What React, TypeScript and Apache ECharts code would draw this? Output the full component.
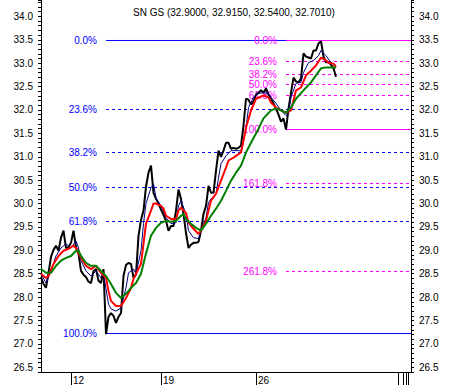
import React, { useEffect, useRef } from "react";
import * as echarts from "echarts";

// ---- data ----
const titleText = "SN GS (32.9000, 32.9150, 32.5400, 32.7010)";
const slotCount = 149;
const dayTickSlots = [12, 48, 86];
const dayTickLabels = ["12", "19", "26"];
const endTickSlots = [143, 145, 146, 147];

const close = [
  28.43, 28.28, 28.2, 28.52, 28.86, 29.01, 29.1, 28.99, 29.27, 29.42,
  29.05, 29.07, 29.16, 29.42, 29.07, 28.93, 28.56, 28.48, 28.43, 28.33,
  28.3, 28.56, 28.6, 28.35, 28.3, 28.6, 27.21, 27.58, 27.66, 27.6,
  27.45, 27.58, 27.66, 28.45, 28.69, 28.73, 28.71, 28.41, 28.48, 29.31,
  29.65, 29.85, 30.36, 30.66, 30.81, 30.23, 30.1, 30.0, 29.87, 29.76,
  29.63, 29.42, 29.52, 29.52, 29.85, 30.3, 30.1, 29.78, 29.37, 29.05,
  29.12, 29.16, 29.16, 29.18, 29.42, 29.78, 29.95, 30.38, 30.23, 30.23,
  30.7, 31.13, 31.0, 31.13, 31.3, 31.3, 31.17, 31.19, 31.17, 31.19,
  31.24, 31.67, 32.24, 32.22, 32.12, 32.18, 32.33, 32.37, 32.42, 32.37,
  32.46, 32.33, 32.24, 32.14, 32.03, 31.9, 31.75, 31.82, 31.58, 32.03,
  32.37, 32.69, 32.61, 32.59, 32.67, 33.21, 33.14, 33.12, 33.1, 33.27,
  33.27, 33.42, 33.47, 33.14, 33.02, 33.02, 32.97, 32.89, 32.71,
];

const shortAvg: [number, number][] = [
  [0, 28.5], [2, 28.3], [4, 28.56], [6, 28.88], [8, 29.05], [10, 29.14], [12, 29.05],
  [14, 29.2], [15, 29.05], [16, 28.78], [18, 28.56], [20, 28.45], [22, 28.56], [24, 28.41],
  [25, 28.5], [27, 27.85], [28, 27.75], [30, 27.7], [32, 27.77], [34, 28.2], [35, 28.52],
  [37, 28.6], [38, 28.5], [40, 28.99], [41, 29.57], [42, 30.0], [44, 30.34], [45, 30.42],
  [46, 30.12], [48, 29.95], [50, 29.7], [52, 29.57], [54, 29.59], [55, 29.95], [56, 30.06],
  [58, 29.78], [59, 29.42], [61, 29.27], [63, 29.25], [64, 29.42], [66, 29.7], [67, 30.02],
  [68, 30.1], [70, 30.21], [71, 30.55], [72, 30.85], [74, 31.02], [76, 31.13], [78, 31.13],
  [80, 31.13], [82, 31.62], [83, 32.05], [85, 32.27], [87, 32.35], [89, 32.37], [91, 32.35],
  [92, 32.27], [94, 32.14], [96, 31.99], [98, 31.88], [99, 31.92], [100, 32.27], [102, 32.57],
  [104, 32.59], [105, 32.8], [107, 33.01], [109, 33.06], [111, 33.16], [112, 33.27],
  [114, 33.16], [116, 33.01], [118, 32.95],
];

const midAvg: [number, number][] = [
  [0, 28.5], [2, 28.41], [3, 28.45], [5, 28.71], [7, 28.88], [9, 28.99], [11, 29.03],
  [13, 29.1], [14, 29.05], [16, 28.84], [18, 28.67], [20, 28.6], [22, 28.67], [24, 28.52],
  [26, 28.41], [27, 28.13], [28, 27.92], [30, 27.81], [32, 27.81], [34, 27.98], [36, 28.2],
  [37, 28.39], [38, 28.5], [40, 28.71], [41, 29.14], [42, 29.57], [44, 29.85], [45, 30.0],
  [46, 30.0], [48, 29.95], [49, 29.89], [50, 29.74], [52, 29.67], [54, 29.67], [55, 29.85],
  [56, 29.91], [58, 29.8], [59, 29.59], [61, 29.46], [63, 29.35], [64, 29.42], [66, 29.63],
  [67, 29.85], [68, 30.06], [70, 30.21], [72, 30.49], [74, 30.77], [75, 30.92], [77, 30.98],
  [80, 31.09], [81, 31.34], [82, 31.62], [84, 31.99], [86, 32.24], [89, 32.31], [91, 32.27],
  [92, 32.16], [94, 32.05], [96, 31.99], [98, 31.94], [100, 31.99], [101, 32.2], [102, 32.42],
  [104, 32.48], [106, 32.74], [108, 32.84], [110, 32.95], [112, 33.12], [114, 33.06],
  [115, 33.01], [117, 32.99], [118, 32.91],
];

const longAvg: [number, number][] = [
  [0, 28.6], [2, 28.52], [4, 28.52], [6, 28.67], [8, 28.78], [10, 28.84], [12, 28.88],
  [14, 28.99], [15, 28.99], [16, 28.88], [18, 28.73], [20, 28.67], [22, 28.67], [24, 28.56],
  [26, 28.45], [28, 28.28], [30, 28.09], [32, 27.98], [34, 28.07], [36, 28.2], [38, 28.3],
  [40, 28.5], [42, 28.93], [44, 29.31], [46, 29.48], [48, 29.59], [50, 29.63], [52, 29.61],
  [54, 29.63], [56, 29.74], [57, 29.78], [58, 29.67], [60, 29.57], [62, 29.48], [64, 29.42],
  [66, 29.57], [68, 29.74], [70, 29.89], [72, 30.06], [74, 30.27], [76, 30.49], [78, 30.66],
  [80, 30.81], [82, 31.09], [84, 31.3], [87, 31.6], [89, 31.82], [92, 31.99], [94, 32.03],
  [96, 31.99], [98, 31.94], [100, 32.05], [102, 32.24], [105, 32.42], [108, 32.59],
  [110, 32.74], [112, 32.89], [114, 32.91], [117, 32.91], [118, 32.91],
];

const fibNames = ["0.0%", "23.6%", "38.2%", "50.0%", "61.8%", "100.0%"];
const fibBlueValues = [33.485, 32.01, 31.091, 30.343, 29.616, 27.223];
const fibMagentaNames = ["0.0%", "23.6%", "38.2%", "50.0%", "61.8%", "100.0%", "161.8%", "261.8%"];
const fibMagentaValues = [33.485, 33.036, 32.758, 32.544, 32.309, 31.582, 30.428, 28.548];
const fibBlueStart = 26;
const fibMagentaStart = 98;

const FONT = "'Liberation Sans', Arial, sans-serif";
const BLUE = "#0000ff";
const MAGENTA = "#ff00ff";

function fibSeries(name: string, v: number, start: number, end: number, color: string, solid: boolean) {
  return {
    type: "line",
    z: 1,
    silent: true,
    symbol: "circle",
    symbolSize: 0,
    showSymbol: true,
    lineStyle: { color, width: 1, type: solid ? "solid" : [3, 3] },
    itemStyle: { color },
    data: [
      {
        value: [start, v],
        label: { show: true, position: "left", distance: 9, formatter: name, color, fontSize: 10, fontFamily: FONT },
      },
      { value: [end, v], label: { show: false } },
    ],
  };
}

export default function App() {
  const ref = useRef<HTMLDivElement>(null);

  useEffect(() => {
    if (!ref.current) return;
    const chart = echarts.init(ref.current, undefined, { renderer: "svg" });

    const categories = Array.from({ length: slotCount }, (_, i) => String(i));
    const tickSlots = [...dayTickSlots, ...endTickSlots];
    const lastSlot = slotCount - 1;

    const yLabel = (v: number) => {
      const t = Math.round(v * 10);
      return t % 5 === 0 ? (t / 10).toFixed(1) : "";
    };

    const fibs: any[] = [];
    fibBlueValues.forEach((v, k) => {
      const solid = k === 0 || k === fibBlueValues.length - 1;
      const end = k === 0 ? fibMagentaStart : lastSlot;
      fibs.push(fibSeries(fibNames[k], v, fibBlueStart, end, BLUE, solid));
    });
    fibMagentaValues.forEach((v, k) => {
      const solid = k === 0 || k === 5;
      fibs.push(fibSeries(fibMagentaNames[k], v, fibMagentaStart, lastSlot, MAGENTA, solid));
    });

    const yAxisBase = {
      type: "value",
      min: 26.4,
      max: 34.35,
      interval: 0.1,
      splitLine: { show: false },
      axisLine: { show: true, lineStyle: { color: "#000", width: 1 } },
      axisTick: { show: true, length: 3, lineStyle: { color: "#000" } },
      axisLabel: { formatter: yLabel, color: "#000", fontSize: 10, fontFamily: FONT, margin: 8 },
    };

    chart.setOption({
      animation: false,
      backgroundColor: "#ffffff",
      title: {
        text: titleText,
        left: 128,
        top: 2,
        textStyle: { fontSize: 10, fontWeight: "normal", color: "#000", fontFamily: FONT },
      },
      grid: { left: 41, right: 40, top: 0, bottom: 13, containLabel: false },
      xAxis: {
        type: "category",
        data: categories,
        boundaryGap: false,
        axisLine: { show: true, lineStyle: { color: "#000", width: 1 } },
        axisTick: {
          show: true,
          length: 13,
          interval: (index: number) => tickSlots.includes(index),
          lineStyle: { color: "#000" },
        },
        axisLabel: {
          show: true,
          interval: (index: number) => dayTickSlots.includes(index),
          formatter: (_v: string, index: number) => {
            const k = dayTickSlots.indexOf(index);
            return k >= 0 ? dayTickLabels[k] : "";
          },
          align: "left",
          padding: [0, 0, 0, 2],
          margin: 3,
          color: "#000",
          fontSize: 10,
          fontFamily: FONT,
        },
        splitLine: { show: false },
      },
      yAxis: [
        { ...yAxisBase, position: "left" },
        { ...yAxisBase, position: "right" },
      ],
      series: [
        ...fibs,
        {
          type: "line",
          data: close,
          z: 2,
          showSymbol: false,
          lineStyle: { color: "#000000", width: 2 },
        },
        {
          type: "line",
          data: shortAvg,
          z: 3,
          showSymbol: false,
          lineStyle: { color: "#000080", width: 1 },
        },
        {
          type: "line",
          data: midAvg,
          z: 4,
          showSymbol: false,
          lineStyle: { color: "#ff0000", width: 2 },
        },
        {
          type: "line",
          data: longAvg,
          z: 5,
          showSymbol: false,
          lineStyle: { color: "#008000", width: 2 },
        },
      ],
    });

    return () => chart.dispose();
  }, []);

  return (
    <div
      ref={ref}
      style={{ position: "fixed", left: 0, top: 0, width: 451, height: 385, background: "#fff" }}
    />
  );
}
